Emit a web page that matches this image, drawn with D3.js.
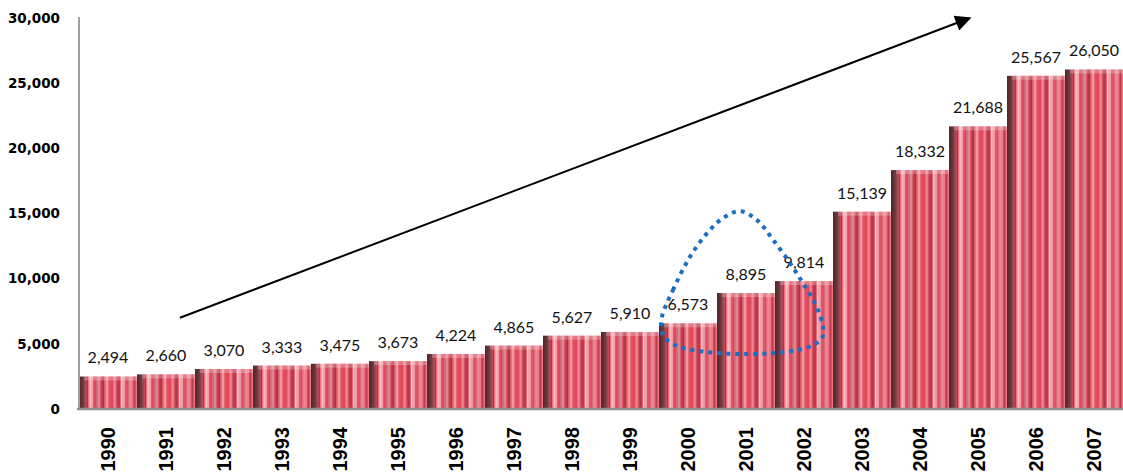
<html lang="en">
<head>
  <meta charset="utf-8" />
  <script src="https://d3js.org/d3.v7.min.js"></script>
  <style>
    body { margin: 0; background: #fff; }
  </style>
</head>
<body>
<script>
  // chart data
  var years = ["1990", "1991", "1992", "1993", "1994", "1995", "1996", "1997", "1998",
               "1999", "2000", "2001", "2002", "2003", "2004", "2005", "2006", "2007"];
  var values = [2494, 2660, 3070, 3333, 3475, 3673, 4224, 4865, 5627,
                5910, 6573, 8895, 9814, 15139, 18332, 21688, 25567, 26050];
  var yTicks = [0, 5000, 10000, 15000, 20000, 25000, 30000];

  // annotations, in [bar index, value] units
  var arrowPts = [[1.74, 7000], [15.36, 30000]];
  var loopPts = [[10.05, 7050], [10.24, 9120], [10.53, 11650], [10.83, 13490], [11.1, 14640],
                 [11.4, 15180], [11.69, 14490], [11.97, 12960], [12.26, 11190], [12.48, 9660],
                 [12.72, 7820], [12.83, 6210], [12.81, 5440], [12.66, 4910], [12.38, 4520],
                 [11.97, 4290], [11.4, 4220], [10.83, 4370], [10.36, 4750], [10.14, 5290], [10.05, 5900]];

  var W = 1123, H = 475;
  var plotLeft = 79, plotRight = 1123, plotTop = 18, plotBottom = 409;

  var svg = d3.select("body").append("svg")
    .attr("width", W)
    .attr("height", H);

  var x = d3.scaleBand().domain(years).range([plotLeft, plotRight]).padding(0);
  var xi = d3.scaleLinear().domain([0, years.length]).range([plotLeft, plotRight]);
  var y = d3.scaleLinear().domain([0, 30000]).range([plotBottom, plotTop]);

  // striped bar texture (styling only)
  var defs = svg.append("defs");
  var pat = defs.append("pattern")
    .attr("id", "stripes")
    .attr("patternUnits", "objectBoundingBox")
    .attr("patternContentUnits", "objectBoundingBox")
    .attr("width", 1).attr("height", 1);

  var shade = defs.append("linearGradient").attr("id", "shade");
  shade.append("stop").attr("offset", "0").attr("stop-color", "#4a282c");
  shade.append("stop").attr("offset", "0.5").attr("stop-color", "#6a363c");
  shade.append("stop").attr("offset", "1").attr("stop-color", "#b0525e");

  var palette = ["#c73b4e", "#f06a7a", "#f2b0b8", "#d94a5c", "#f58c98", "#b83848",
                 "#fbc4ca", "#e25666", "#cf6a76", "#f27484", "#a93444", "#f7a4ae",
                 "#e8485a", "#d88890"];
  var stripes = [];
  var pos = 0.12, k = 0;
  while (pos < 1) {
    var w = 0.007 + ((k * 7) % 6) * 0.005;
    stripes.push({ x: pos, w: Math.min(w, 1 - pos), c: palette[(k * 5) % palette.length] });
    pos += w;
    k++;
  }
  pat.append("rect").attr("x", 0).attr("y", 0).attr("width", 1).attr("height", 1).attr("fill", "#e05a6a");
  pat.selectAll("rect.s").data(stripes).join("rect")
    .attr("class", "s")
    .attr("x", d => d.x).attr("y", 0)
    .attr("width", d => d.w + 0.001).attr("height", 1)
    .attr("fill", d => d.c);
  pat.append("rect").attr("x", 0).attr("y", 0).attr("width", 0.13).attr("height", 1)
    .attr("fill", "url(#shade)");

  // bars
  var bars = svg.append("g");
  bars.selectAll("rect.bar").data(values).join("rect")
    .attr("class", "bar")
    .attr("x", (d, i) => x(years[i]))
    .attr("y", d => y(d))
    .attr("width", x.bandwidth())
    .attr("height", d => plotBottom - y(d))
    .attr("fill", "url(#stripes)");
  // lighter top face
  bars.selectAll("rect.topface").data(values).join("rect")
    .attr("class", "topface")
    .attr("x", (d, i) => x(years[i]) + 5)
    .attr("y", d => y(d))
    .attr("width", x.bandwidth() - 5)
    .attr("height", 4)
    .attr("fill", "#fff")
    .attr("opacity", 0.25);

  // value labels
  svg.append("g").selectAll("text").data(values).join("text")
    .attr("x", (d, i) => x(years[i]) + x.bandwidth() / 2)
    .attr("y", d => y(d) - 13)
    .attr("text-anchor", "middle")
    .style("font-family", "Lato, 'Open Sans', sans-serif")
    .style("font-size", "16px")
    .attr("fill", "#111")
    .text(d => d3.format(",")(d));

  // y axis
  var yAxis = svg.append("g")
    .attr("transform", "translate(" + plotLeft + ",0)")
    .call(d3.axisLeft(y).tickValues(yTicks).tickSize(0).tickPadding(19).tickFormat(d3.format(",")));
  yAxis.select(".domain").attr("stroke", "#a0a0a0").attr("stroke-width", 2)
    .attr("d", "M0," + (plotTop - 1) + "V" + plotBottom);
  yAxis.selectAll("text")
    .style("font-family", "'DejaVu Sans', sans-serif")
    .style("font-weight", "bold")
    .style("font-size", "13.5px")
    .attr("fill", "#000");

  // x axis
  var xAxis = svg.append("g")
    .attr("transform", "translate(0," + plotBottom + ")")
    .call(d3.axisBottom(x).tickSize(0).tickPadding(0));
  xAxis.select(".domain").attr("stroke", "#909090").attr("stroke-width", 2.5)
    .attr("d", "M" + (plotLeft - 2) + ",0H" + plotRight);
  xAxis.selectAll("text")
    .attr("transform", "rotate(-90)")
    .attr("x", -18)
    .attr("y", 0)
    .attr("dy", "0.36em")
    .attr("text-anchor", "end")
    .style("font-family", "'Liberation Sans', Arial, sans-serif")
    .style("font-weight", "bold")
    .style("font-size", "20px")
    .attr("fill", "#000");

  // trend arrow
  defs.append("marker")
    .attr("id", "head")
    .attr("viewBox", "0 0 10 10")
    .attr("refX", 9).attr("refY", 5)
    .attr("markerWidth", 9).attr("markerHeight", 8)
    .attr("markerUnits", "strokeWidth")
    .attr("orient", "auto")
    .append("path")
    .attr("d", "M0,0L10,5L0,10Z")
    .attr("fill", "#000");

  svg.append("line")
    .attr("x1", xi(arrowPts[0][0])).attr("y1", y(arrowPts[0][1]))
    .attr("x2", xi(arrowPts[1][0])).attr("y2", y(arrowPts[1][1]))
    .attr("stroke", "#000")
    .attr("stroke-width", 2)
    .attr("marker-end", "url(#head)");

  // dotted highlight loop
  var loop = d3.line()
    .x(d => xi(d[0]))
    .y(d => y(d[1]))
    .curve(d3.curveCatmullRomClosed);
  svg.append("path")
    .attr("d", loop(loopPts))
    .attr("fill", "none")
    .attr("stroke", "#1a6fc4")
    .attr("stroke-width", 4)
    .attr("stroke-dasharray", "4,5");
</script>
</body>
</html>
